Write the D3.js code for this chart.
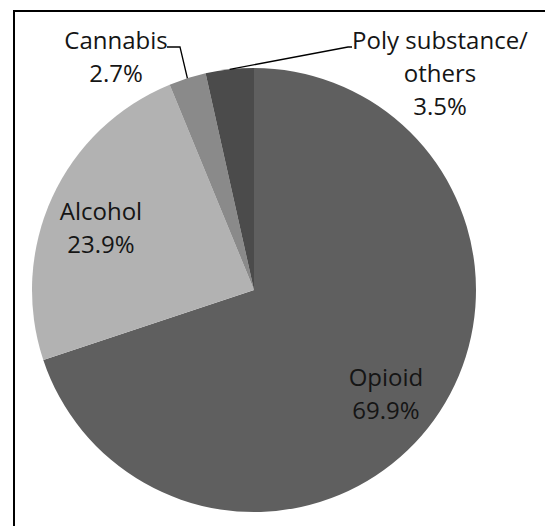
<!DOCTYPE html>
<html>
<head>
<meta charset="utf-8">
<script src="https://d3js.org/d3.v7.min.js"></script>
<style>
  body { margin: 0; background: #fff; }
  text { font-family: "Open Sans", sans-serif; font-size: 24px; fill: #151515; }
</style>
</head>
<body>
<svg id="chart" width="545" height="526"></svg>
<script>
  // data
  var categories = ["Opioid", "Alcohol", "Cannabis", "Poly substance/ others"];
  var values = [69.9, 23.9, 2.7, 3.5];
  var labelLines = [["Opioid"], ["Alcohol"], ["Cannabis"], ["Poly substance/", "others"]];
  var colors = ["#5f5f5f", "#b2b2b2", "#8a8a8a", "#4b4b4b"];

  var svg = d3.select("#chart");
  var cx = 254, cy = 290, r = 222;

  // frame (right and bottom edges are cut off in the picture)
  svg.append("rect")
    .attr("x", 14).attr("y", 11)
    .attr("width", 700).attr("height", 700)
    .attr("fill", "none").attr("stroke", "#000").attr("stroke-width", 2);

  var pie = d3.pie().sort(null).value(function(d) { return d; });
  var slices = pie(values);
  var arc = d3.arc().innerRadius(0).outerRadius(r);
  var edge = d3.arc().innerRadius(r).outerRadius(r);

  var g = svg.append("g").attr("transform", "translate(" + cx + "," + cy + ")");
  g.selectAll("path")
    .data(slices)
    .enter().append("path")
    .attr("d", arc)
    .attr("fill", function(d, i) { return colors[i]; });

  // label placement (x = centre of text, y = first baseline)
  var labelPos = [[386, 386], [101, 220], [116, 49], [440, 49]];
  var lineH = 33;

  labelPos.forEach(function(p, i) {
    var lines = labelLines[i].concat([d3.format(".1f")(values[i]) + "%"]);
    var t = svg.append("text").attr("text-anchor", "middle");
    lines.forEach(function(s, k) {
      t.append("tspan").attr("x", p[0]).attr("y", p[1] + k * lineH).text(s);
    });
  });

  // leader lines
  var line = d3.line();
  var pc = edge.centroid(slices[2]);
  svg.append("path")
    .attr("d", line([[167, 47], [180, 47], [cx + pc[0], cy + pc[1]]]))
    .attr("fill", "none").attr("stroke", "#000").attr("stroke-width", 1.3);
  var pp = edge.centroid(slices[3]);
  svg.append("path")
    .attr("d", line([[cx + pp[0], cy + pp[1]], [348, 47], [352, 47]]))
    .attr("fill", "none").attr("stroke", "#000").attr("stroke-width", 1.3);
</script>
</body>
</html>
